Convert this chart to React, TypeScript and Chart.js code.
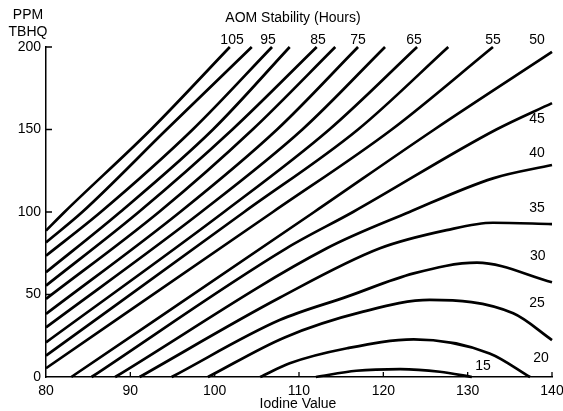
import React, { useEffect, useRef } from "react";
import { Chart, registerables } from "chart.js";

Chart.register(...registerables);

// AOM stability contours: [Iodine Value, PPM TBHQ]
const h105 = [[80, 88.7], [82.2, 100], [92.45, 150], [101.8, 200]];
const h100 = [[80, 81.6], [84.3, 100], [94.3, 150], [104.4, 200]];
const h95 = [[80, 73.5], [86.5, 100], [97.4, 150], [106.8, 200]];
const h90 = [[80, 63.5], [88.8, 100], [99.8, 150], [108.9, 200]];
const h85 = [[80, 55.4], [91.0, 100], [102.1, 150], [112.1, 200]];
const h80 = [[80, 47.3], [93.4, 100], [104.5, 150], [114.3, 200]];
const h75 = [[80, 38.2], [95.9, 100], [107.4, 150], [117.0, 200]];
const h70 = [[80, 30.1], [98.4, 100], [110.4, 150], [120.2, 200]];
const h65 = [[80, 21.0], [101.1, 100], [113.6, 150], [124.0, 200]];
const h60 = [[80, 12.9], [103.5, 100], [117.0, 150], [127.7, 200]];
const h55 = [[80, 5.3], [106.9, 100], [121.0, 150], [133.0, 200]];
const h50 = [[83.0, 0], [111.8, 100], [126.05, 150], [140, 197]];
const h45 = [[85.4, 0], [108.5, 78], [116.4, 100], [133.4, 150], [140, 166]];
const h40 = [[88.2, 0], [113.3, 78], [123.1, 100], [133, 120.4], [140, 128.5]];
const h35 = [[91.1, 0], [107.7, 48], [119.6, 78], [127.5, 89], [133, 93.5], [140, 92.7]];
const h30 = [[94.9, 0], [107.7, 34.5], [115.7, 48.7], [123.6, 62.8], [131.1, 69.3], [140, 57.4]];
const h25 = [[99.2, 0], [108.3, 24], [117.6, 39.6], [125.5, 46.7], [135.4, 38.6], [140, 22.4]];
const h20 = [[105.4, 0], [108.9, 8.3], [115.7, 17.4], [123.6, 22.8], [132.6, 14.3], [137.4, 0]];
const h15 = [[112, 0], [116.8, 3.8], [122, 4.8], [126.7, 3.2], [130.5, 0]];

const contours = [h105, h100, h95, h90, h85, h80, h75, h70, h65, h60, h55, h50, h45, h40, h35, h30, h25, h20, h15];

const xTicks = [80, 90, 100, 110, 120, 130, 140];
const yTicks = [0, 50, 100, 150, 200];

// contour label texts and their data positions
const labelTexts = ["105", "95", "85", "75", "65", "55", "50", "45", "40", "35", "30", "25", "20", "15"];
const labelX = [102.06, 106.33, 112.25, 117.0, 123.64, 133.0, 138.22, 138.22, 138.22, 138.22, 138.3, 138.22, 138.7, 131.82];
const labelY = [204.2, 204.2, 204.2, 204.2, 204.2, 204.2, 204.2, 156.4, 135.8, 102.4, 73.3, 44.8, 11.5, 6.7];

const FONT = '"Liberation Sans", Arial, Helvetica, sans-serif';

const textPlugin = {
  id: "textPlugin",
  afterDraw(chart: any) {
    const { ctx, scales } = chart;
    const xs = scales.x;
    const ys = scales.y;
    ctx.save();
    // inner tick marks
    ctx.strokeStyle = "#000";
    ctx.lineWidth = 1.3;
    ctx.beginPath();
    yTicks.forEach((v) => {
      if (v === 0) return;
      const py = ys.getPixelForValue(v);
      ctx.moveTo(xs.left, py);
      ctx.lineTo(xs.left + 6, py);
    });
    xTicks.forEach((v) => {
      if (v === 80) return;
      const px = xs.getPixelForValue(v);
      ctx.moveTo(px, ys.bottom);
      ctx.lineTo(px, ys.bottom - 5);
    });
    ctx.stroke();

    ctx.fillStyle = "#000";
    ctx.font = `14px ${FONT}`;
    ctx.textAlign = "center";
    ctx.textBaseline = "middle";
    labelTexts.forEach((t, i) => {
      ctx.fillText(t, xs.getPixelForValue(labelX[i]), ys.getPixelForValue(labelY[i]));
    });
    ctx.fillText("PPM", 28, 15);
    ctx.fillText("TBHQ", 28, 32);
    ctx.fillText("AOM Stability (Hours)", 293, 18);
    ctx.fillText("Iodine Value", 298, 404);
    ctx.restore();
  },
};

export default function App() {
  const ref = useRef<HTMLCanvasElement | null>(null);
  useEffect(() => {
    if (!ref.current) return;
    const chart = new Chart(ref.current, {
      type: "line",
      data: {
        datasets: contours.map((c) => ({
          data: c.map(([x, y]) => ({ x, y })),
          borderColor: "#000",
          borderWidth: 2.7,
          pointRadius: 0,
          cubicInterpolationMode: "monotone" as const,
          fill: false,
          clip: false as any,
        })),
      },
      plugins: [textPlugin],
      options: {
        animation: false,
        responsive: true,
        maintainAspectRatio: false,
        layout: { padding: { top: 47, right: 11, left: 0, bottom: 0 } },
        plugins: { legend: { display: false }, tooltip: { enabled: false }, title: { display: false } },
        scales: {
          x: {
            type: "linear",
            min: 80,
            max: 140,
            afterFit: (s: any) => {
              s.height = 34;
              s.paddingLeft = 0;
              s.paddingRight = 0;
            },
            afterBuildTicks: (s: any) => {
              s.ticks = xTicks.map((v) => ({ value: v }));
            },
            grid: { display: true, drawOnChartArea: false, drawTicks: false, color: "rgba(0,0,0,0)" },
            border: { display: true, color: "#000", width: 1.5 },
            ticks: { color: "#000", font: { size: 14, family: FONT }, padding: 6, maxRotation: 0 },
          },
          y: {
            type: "linear",
            min: 0,
            max: 200,
            afterFit: (s: any) => {
              s.width = 46;
              s.paddingTop = 0;
              s.paddingBottom = 0;
            },
            afterBuildTicks: (s: any) => {
              s.ticks = yTicks.map((v) => ({ value: v }));
            },
            grid: { display: true, drawOnChartArea: false, drawTicks: false, color: "rgba(0,0,0,0)" },
            border: { display: true, color: "#000", width: 1.5 },
            ticks: { color: "#000", font: { size: 14, family: FONT }, padding: 5 },
          },
        },
      },
    });
    return () => chart.destroy();
  }, []);
  return (
    <div style={{ position: "absolute", left: 0, top: 0, width: 563, height: 411, background: "#fff" }}>
      <canvas ref={ref} />
    </div>
  );
}
